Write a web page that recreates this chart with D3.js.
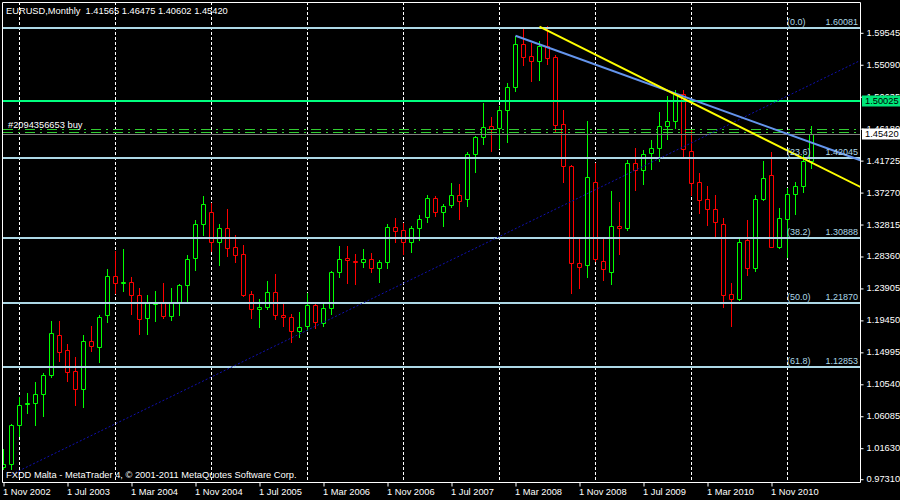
<!DOCTYPE html>
<html><head><meta charset="utf-8">
<script src="https://cdn.jsdelivr.net/npm/d3@7/dist/d3.min.js"></script>
<style>
html,body{margin:0;padding:0;background:#000;}
svg{display:block;font-family:"Liberation Sans",Arial,sans-serif;}
</style>
</head><body>
<svg id="chart" width="900" height="500"></svg>
<script>
// ---- data ----
const months = [
 "2002-11","2002-12",
 "2003-01","2003-02","2003-03","2003-04","2003-05","2003-06","2003-07","2003-08","2003-09","2003-10","2003-11","2003-12",
 "2004-01","2004-02","2004-03","2004-04","2004-05","2004-06","2004-07","2004-08","2004-09","2004-10","2004-11","2004-12",
 "2005-01","2005-02","2005-03","2005-04","2005-05","2005-06","2005-07","2005-08","2005-09","2005-10","2005-11","2005-12",
 "2006-01","2006-02","2006-03","2006-04","2006-05","2006-06","2006-07","2006-08","2006-09","2006-10","2006-11","2006-12",
 "2007-01","2007-02","2007-03","2007-04","2007-05","2007-06","2007-07","2007-08","2007-09","2007-10","2007-11","2007-12",
 "2008-01","2008-02","2008-03","2008-04","2008-05","2008-06","2008-07","2008-08","2008-09","2008-10","2008-11","2008-12",
 "2009-01","2009-02","2009-03","2009-04","2009-05","2009-06","2009-07","2009-08","2009-09","2009-10","2009-11","2009-12",
 "2010-01","2010-02","2010-03","2010-04","2010-05","2010-06","2010-07","2010-08","2010-09","2010-10","2010-11","2010-12",
 "2011-01","2011-02","2011-03","2011-04"];
const opens = [
 0.9890,0.9932,
 1.0475,1.0770,1.0790,1.0908,1.1176,1.1740,1.1525,1.1232,1.0977,1.1646,1.1570,1.2009,
 1.2553,1.2464,1.2471,1.2289,1.1976,1.2170,1.2177,1.2000,1.2177,1.2429,1.2813,1.3278,
 1.3445,1.3036,1.3223,1.2957,1.2859,1.2301,1.2093,1.2121,1.2329,1.2009,1.1981,1.1790,
 1.1860,1.2148,1.1907,1.2106,1.2613,1.2808,1.2771,1.2752,1.2794,1.2664,1.2752,1.3236,
 1.3200,1.3027,1.3222,1.3375,1.3640,1.3445,1.3543,1.3682,1.3626,1.4262,1.4491,1.4648,
 1.4625,1.4867,1.5196,1.5787,1.5624,1.5558,1.5759,1.5606,1.4680,1.4090,1.2734,1.2706,
 1.3863,1.2766,1.2617,1.3254,1.3222,1.4139,1.4028,1.4267,1.4337,1.4644,1.4714,1.5095,
 1.4300,1.3863,1.3626,1.3495,1.3278,1.2302,1.2232,1.3055,1.2673,1.3626,1.3961,1.2966,
 1.3347,1.3696,1.3812,1.41565];
const highs = [
 1.0150,1.0494,
 1.0870,1.0922,1.1083,1.1200,1.1930,1.1930,1.1609,1.1432,1.1734,1.1864,1.2013,1.2655,
 1.2905,1.2933,1.2543,1.2389,1.2287,1.2348,1.2459,1.2389,1.2445,1.2850,1.3335,1.3673,
 1.3571,1.3278,1.3491,1.3129,1.2989,1.2348,1.2242,1.2487,1.2585,1.2177,1.2030,1.2055,
 1.2316,1.2162,1.2177,1.2627,1.2975,1.2975,1.2864,1.2933,1.2878,1.2780,1.3282,1.3366,
 1.3292,1.3254,1.3407,1.3687,1.3673,1.3557,1.3850,1.3840,1.4290,1.4509,1.4965,1.4774,
 1.4927,1.5243,1.5903,1.5996,1.5810,1.5837,1.6042,1.5634,1.4871,1.4100,1.3091,1.4718,
 1.4128,1.3091,1.3742,1.3593,1.4180,1.4337,1.4314,1.4453,1.4839,1.5066,1.5150,1.5150,
 1.4592,1.3989,1.3816,1.3686,1.3361,1.2459,1.3083,1.3338,1.3686,1.4160,1.4290,1.3501,
 1.3780,1.3868,1.4250,1.46475];
const lows = [
 0.9865,0.9860,
 1.0330,1.0652,1.0478,1.0600,1.1144,1.1376,1.1097,1.0759,1.0736,1.1516,1.1362,1.1920,
 1.2324,1.2353,1.2027,1.1750,1.1750,1.1930,1.1971,1.1944,1.2018,1.2213,1.2641,1.3129,
 1.2904,1.2711,1.2836,1.2757,1.2276,1.1976,1.1850,1.2097,1.1958,1.1864,1.1640,1.1700,
 1.1800,1.1828,1.1860,1.2023,1.2547,1.2464,1.2450,1.2686,1.2617,1.2478,1.2669,1.3036,
 1.2859,1.2892,1.3059,1.3315,1.3398,1.3258,1.3515,1.3352,1.3537,1.4007,1.4397,1.4300,
 1.4337,1.4430,1.5141,1.5499,1.5276,1.5289,1.5513,1.4569,1.3872,1.2316,1.2385,1.2539,
 1.2760,1.2501,1.2445,1.2863,1.3199,1.3756,1.3840,1.4042,1.4160,1.4467,1.4616,1.4230,
 1.3686,1.3440,1.3268,1.3115,1.2129,1.1864,1.2222,1.2571,1.2627,1.3612,1.2960,1.2950,
 1.2826,1.3417,1.3732,1.40602];
const closes = [
 0.9932,1.0475,
 1.0754,1.0790,1.0908,1.1176,1.1758,1.1502,1.1222,1.0977,1.1646,1.1581,1.1981,1.2553,
 1.2464,1.2471,1.2289,1.1961,1.2177,1.2184,1.2000,1.2177,1.2429,1.2790,1.3278,1.3557,
 1.3036,1.3223,1.2952,1.2855,1.2296,1.2093,1.2121,1.2329,1.2009,1.1981,1.1790,1.1840,
 1.2148,1.1912,1.2106,1.2609,1.2794,1.2785,1.2752,1.2794,1.2669,1.2752,1.3236,1.3189,
 1.3027,1.3222,1.3347,1.3640,1.3445,1.3529,1.3682,1.3608,1.4259,1.4495,1.4631,1.4602,
 1.4867,1.5188,1.5787,1.5614,1.5558,1.5759,1.5600,1.4666,1.4090,1.2734,1.2687,1.3934,
 1.2798,1.2659,1.3250,1.3222,1.4128,1.4028,1.4254,1.4337,1.4644,1.4714,1.5095,1.4323,
 1.3858,1.3612,1.3495,1.3305,1.2288,1.2232,1.3027,1.2673,1.3626,1.3919,1.2966,1.3361,
 1.3696,1.3812,1.4160,1.45420];

const xTickMonths = ["2002-11","2003-07","2004-03","2004-11","2005-07","2006-03","2006-11","2007-07","2008-03","2008-11","2009-07","2010-03","2010-11"];
const xTickLabels = ["1 Nov 2002","1 Jul 2003","1 Mar 2004","1 Nov 2004","1 Jul 2005","1 Mar 2006","1 Nov 2006","1 Jul 2007","1 Mar 2008","1 Nov 2008","1 Jul 2009","1 Mar 2010","1 Nov 2010"];
const gridMonths = ["2003-01","2004-01","2005-01","2006-01","2007-01","2008-01","2009-01","2010-01","2011-01"];
const yTicks = [1.59545,1.55090,1.50635,1.46180,1.41725,1.37270,1.32815,1.28360,1.23905,1.19450,1.14995,1.10540,1.06085,1.01630,0.97310];

const fibNames = ["(0.0)","(23.6)","(38.2)","(50.0)","(61.8)"];
const fibPrices = [1.60081,1.42045,1.30888,1.21870,1.12853];

const levelPrice = 1.50025;      // green horizontal line
const bidPrice = 1.45420;        // current price
const orderPrice = 1.4611;       // "#2094356653 buy"
const order2Price = 1.4562;
const orderLabel = "#2094356653 buy";

// trend lines: [month, price] anchor pairs
const yellowLine = [["2008-06",1.6033],["2011-04",1.4139]];
const blueLine   = [["2008-03",1.5907],["2011-04",1.4416]];
const navyLine   = [["2002-12",0.9790],["2011-04",1.5230]];

const title = "EURUSD,Monthly  1.41565 1.46475 1.40602 1.45420";
const footer = "FXDD Malta - MetaTrader 4, \u00A9 2001-2011 MetaQuotes Software Corp.";

// ---- layout ----
const W = 900, H = 500;
const plotL = 2, plotT = 2, plotR = 860, plotB = 482;
const svg = d3.select("#chart");
svg.append("rect").attr("width",W).attr("height",H).attr("fill","#000");

const idx = m => months.indexOf(m);
const x = d3.scaleLinear().domain([0, months.length-1]).range([3.5, 3.5 + 8*(months.length-1)]);
const y = d3.scaleLinear().domain([0.9699, 1.6377]).range([481, 2]);
const py = p => Math.round(y(p)) + 0.5;

svg.append("defs").append("clipPath").attr("id","plot")
  .append("rect").attr("x",plotL).attr("y",plotT).attr("width",plotR-plotL).attr("height",plotB-plotT);
const plot = svg.append("g").attr("clip-path","url(#plot)");

// vertical dashed grid (each January)
plot.selectAll("line.grid").data(gridMonths).join("line")
  .attr("x1",d=>x(idx(d))).attr("x2",d=>x(idx(d)))
  .attr("y1",plotT).attr("y2",plotB)
  .attr("stroke","#fff").attr("stroke-width",1).attr("stroke-dasharray","3,2");

// candles
const data = months.map((m,i)=>({i,o:opens[i],h:highs[i],l:lows[i],c:closes[i]}));
const col = d => d.c >= d.o ? "#00ff00" : "#ff0000";
const cg = plot.append("g");
cg.selectAll("line.wick").data(data).join("line")
  .attr("x1",d=>x(d.i)).attr("x2",d=>x(d.i))
  .attr("y1",d=>Math.round(y(d.h))).attr("y2",d=>Math.round(y(d.l))+1)
  .attr("stroke",col).attr("stroke-width",1);
cg.selectAll("path.body").data(data).join("path")
  .attr("d",d=>{
    const t = py(Math.max(d.o,d.c)), b = py(Math.min(d.o,d.c));
    const cx = x(d.i);
    return `M${cx-2},${t}H${cx+2}V${b}H${cx-2}Z`;
  })
  .attr("fill","#000").attr("stroke",col).attr("stroke-width",1);

// fibonacci levels
plot.selectAll("line.fib").data(fibPrices).join("line")
  .attr("x1",plotL).attr("x2",plotR)
  .attr("y1",d=>Math.round(y(d))).attr("y2",d=>Math.round(y(d)))
  .attr("stroke","#add8e6").attr("stroke-width",2);

// green level
plot.append("line").attr("x1",plotL).attr("x2",plotR)
  .attr("y1",Math.round(y(levelPrice))).attr("y2",Math.round(y(levelPrice)))
  .attr("stroke","#00ff7f").attr("stroke-width",2);

// bid line
plot.append("line").attr("x1",plotL).attr("x2",plotR)
  .attr("y1",py(bidPrice)).attr("y2",py(bidPrice))
  .attr("stroke","#808080").attr("stroke-width",1);
// order lines
[orderPrice, order2Price].forEach(p=>{
  plot.append("line").attr("x1",plotL+1).attr("x2",plotR)
    .attr("y1",py(p)).attr("y2",py(p))
    .attr("stroke","#32cd32").attr("stroke-width",1).attr("stroke-dasharray","10,5,2,5");
});

// trend lines (rays to the right edge)
function ray(anchors){
  const i0 = idx(anchors[0][0]), i1 = idx(anchors[1][0]);
  const p0 = anchors[0][1], p1 = anchors[1][1];
  const slope = (p1-p0)/(i1-i0);
  const iEnd = x.invert(plotR + 2);
  return [[x(i0), y(p0)], [x(iEnd), y(p0 + slope*(iEnd-i0))]];
}
const lineGen = d3.line();
plot.append("path").attr("d",lineGen(ray(navyLine)))
  .attr("stroke","#1010b0").attr("stroke-width",1).attr("stroke-dasharray","2,2").attr("fill","none");
plot.append("path").attr("d",lineGen(ray(blueLine)))
  .attr("stroke","#6495ed").attr("stroke-width",2).attr("fill","none");
plot.append("path").attr("d",lineGen(ray(yellowLine)))
  .attr("stroke","#ffff00").attr("stroke-width",2).attr("fill","none");

// fib labels
const fg = svg.append("g").attr("font-size","9px").attr("fill","#add8e6");
fibPrices.forEach((p,k)=>{
  const yy = Math.round(y(p)) - 3;
  fg.append("text").attr("x",787).attr("y",yy).text(fibNames[k]).style("white-space","pre");
  fg.append("text").attr("x",858).attr("y",yy).attr("text-anchor","end").text(p.toFixed(5));
});

// order label
svg.append("text").attr("x",8).attr("y",py(orderPrice)-2).attr("fill","#fff")
  .attr("font-size","9.3px").text(orderLabel);

// frame
svg.append("path").attr("d",`M${plotL+0.5},${plotB+0.5}V${plotT+0.5}H${plotR+0.5}V${plotB+0.5}Z`)
  .attr("fill","none").attr("stroke","#fff").attr("stroke-width",1);

// y axis (right)
const yAxis = d3.axisRight(y).tickValues(yTicks).tickSize(3).tickPadding(3).tickFormat(d=>d.toFixed(5));
const ya = svg.append("g").attr("transform",`translate(${plotR+0.5},0)`).call(yAxis);
ya.select(".domain").remove();
ya.selectAll("line").attr("stroke","#fff").attr("transform","translate(0,0.5)");
ya.selectAll("text").attr("fill","#fff").attr("font-size","9.3px").attr("font-family","Liberation Sans, Arial, sans-serif");

// price boxes on the axis
function priceBox(p, bg){
  const yy = y(p);
  const g = svg.append("g");
  g.append("rect").attr("x",862).attr("y",Math.round(yy)-5.5).attr("width",38).attr("height",11).attr("fill",bg);
  g.append("text").attr("x",865).attr("y",yy).attr("dy","0.32em").attr("fill","#000")
    .attr("font-size","9.3px").text(p.toFixed(5));
}
priceBox(levelPrice, "#00e87a");
priceBox(bidPrice, "#ffffff");

// x axis (bottom)
const xAxis = d3.axisBottom(x).tickValues(xTickMonths.map(idx)).tickSize(4)
  .tickFormat((d)=>xTickLabels[xTickMonths.indexOf(months[d])]);
const xa = svg.append("g").attr("transform",`translate(0,${plotB+0.5})`).call(xAxis);
xa.select(".domain").remove();
xa.selectAll("line").attr("stroke","#fff");
xa.selectAll("text").attr("fill","#fff").attr("font-size","9.3px").attr("text-anchor","start")
  .attr("dx","-1").attr("y",6).attr("font-family","Liberation Sans, Arial, sans-serif");

// title & footer
svg.append("text").attr("x",6).attr("y",14).attr("fill","#fff").attr("font-size","9.3px")
  .style("white-space","pre").text(title);
svg.append("text").attr("x",6).attr("y",478).attr("fill","#fff").attr("font-size","9.3px")
  .text(footer);
</script>
</body></html>
